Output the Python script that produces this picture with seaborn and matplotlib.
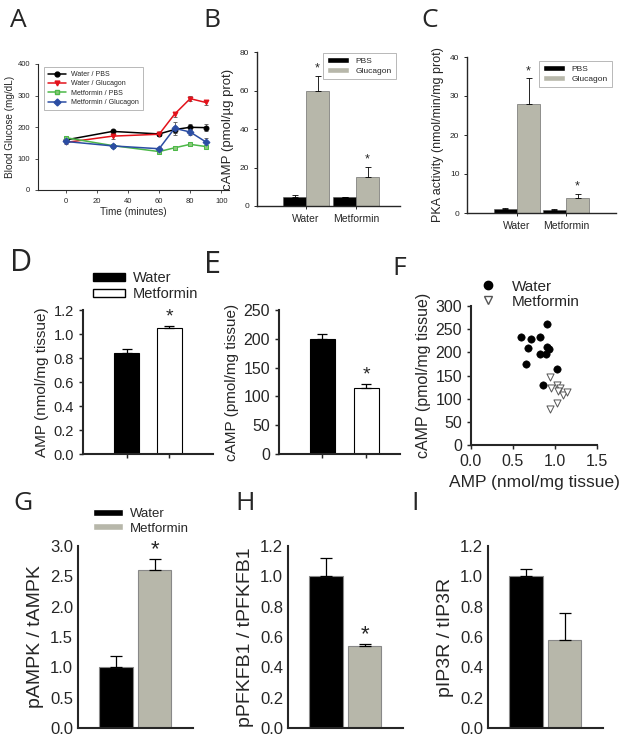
import matplotlib
matplotlib.use("Agg")
import matplotlib.pyplot as plt
import matplotlib.patches as mpatches
from matplotlib.lines import Line2D
import seaborn as sns
import pandas as pd

# ---- panel A: blood glucose time course
time_min = [0, 30, 60, 70, 80, 90]
water_pbs = [159, 186, 178, 192, 199, 198]
water_pbs_err = [5, 6, 6, 10, 10, 10]
water_glu = [151, 171, 177, 241, 290, 278]
water_glu_err = [6, 8, 7, 8, 8, 7]
met_pbs = [166, 141, 122, 134, 145, 138]
met_pbs_err = [5, 5, 5, 5, 5, 6]
met_glu = [154, 140, 131, 196, 184, 153]
met_glu_err = [5, 6, 6, 20, 8, 12]

# ---- panels B, C: grouped bars
groups = ["Water", "Metformin"]
treatments = ["PBS", "Glucagon"]
camp_pbs = [4.5, 4.5]
camp_pbs_err = [1.2, 0.4]
camp_glu = [60, 15.3]
camp_glu_err = [7.5, 5.0]
pka_pbs = [0.95, 0.7]
pka_pbs_err = [0.3, 0.2]
pka_glu = [27.9, 3.8]
pka_glu_err = [6.6, 1.0]

# ---- panels D, E
amp_vals = [0.84, 1.05]
amp_err = [0.035, 0.02]
camp_tissue = [200, 115]
camp_tissue_err = [9, 7]

# ---- panel F: scatter
water_amp = [0.90, 0.60, 0.71, 0.82, 0.68, 0.91, 0.93, 0.82, 0.89, 0.66, 1.02, 0.86]
water_camp = [261, 234, 228, 233, 210, 211, 207, 196, 196, 175, 164, 130]
met_amp = [0.94, 0.95, 1.02, 1.06, 1.03, 1.10, 1.14, 0.94, 1.02]
met_camp = [146, 124, 129, 122, 117, 107, 114, 78, 90]

# ---- panels G, H, I
ampk = [1.0, 2.6]
ampk_err = [0.18, 0.19]
pfkfb = [1.0, 0.54]
pfkfb_err = [0.12, 0.015]
ip3r = [1.0, 0.58]
ip3r_err = [0.05, 0.18]

GRAY = "#b7b7aa"
W, H = 629, 742

sns.set_style("ticks")
plt.rcParams["font.family"] = ["Liberation Sans", "DejaVu Sans"]

fig = plt.figure(figsize=(W / 100, H / 100), dpi=100)


def box(l, t, r, b):
    return fig.add_axes([l / W, 1 - b / H, (r - l) / W, (b - t) / H])


def letter(x, y, s, size=19):
    fig.text(x / W, 1 - y / H, s, fontsize=size, family=["Open Sans", "DejaVu Sans"],
             va="top", ha="left")


def style(ax, lw, fs, length=2):
    sns.despine(ax=ax)
    for sp in ["left", "bottom"]:
        ax.spines[sp].set_linewidth(lw)
    ax.tick_params(labelsize=fs, length=length, width=lw * 0.7)


def add_err(ax, bars, errs, lw=0.8, cap=3):
    for p, e in zip(bars, errs):
        x = p.get_x() + p.get_width() / 2
        ax.errorbar(x, p.get_height(), yerr=[[0], [e]], fmt="none", ecolor="black",
                    elinewidth=lw, capsize=cap, capthick=lw)


def add_star(ax, bar, err, size=9, off=1):
    x = bar.get_x() + bar.get_width() / 2
    ax.annotate("*", (x, bar.get_height() + err), xytext=(0, off), textcoords="offset points",
                ha="center", va="bottom", fontsize=size)


# ================= A
ax = box(38, 64, 229, 190)
series = [("Water / PBS", water_pbs, water_pbs_err, "black", "o", "black"),
          ("Water / Glucagon", water_glu, water_glu_err, "#e3121b", "v", "#e3121b"),
          ("Metformin / PBS", met_pbs, met_pbs_err, "#4cb848", "s", "#8cc97a"),
          ("Metformin / Glucagon", met_glu, met_glu_err, "#2b4da3", "D", "#2b4da3")]
handles = []
for name, vals, err, col, mk, fc in series:
    ax.errorbar(time_min, vals, yerr=err, fmt="none", ecolor="#555555", elinewidth=0.6,
                capsize=1.5, capthick=0.6, zorder=1)
    sns.lineplot(x=time_min, y=vals, color=col, marker=mk, markersize=3.5, markerfacecolor=fc,
                 markeredgecolor=col, linewidth=1.1, ax=ax, zorder=2)
    handles.append(Line2D([], [], color=col, marker=mk, markersize=3.5, markerfacecolor=fc,
                          markeredgecolor=col, linewidth=1.1, label=name))
ax.set_xlim(-18, 105)
ax.set_ylim(0, 400)
ax.set_xticks([0, 20, 40, 60, 80, 100])
ax.set_yticks([0, 100, 200, 300, 400])
style(ax, 0.8, 5.5)
ax.set_xlabel("Time (minutes)", fontsize=7.2, labelpad=2)
ax.set_ylabel("Blood Glucose (mg/dL)", fontsize=7.2, labelpad=2)
leg = ax.legend(handles=handles, loc="upper left", bbox_to_anchor=(0.015, 1.0), fontsize=5,
                frameon=True, fancybox=False, edgecolor="#999999", borderpad=0.5,
                handlelength=2.6, labelspacing=0.35)
leg.get_frame().set_linewidth(0.6)


def grouped(ax, pbs, pbs_err, glu, glu_err, width):
    df = pd.DataFrame({"group": groups * 2,
                       "treatment": [treatments[0]] * 2 + [treatments[1]] * 2,
                       "value": pbs + glu})
    sns.barplot(data=df, x="group", y="value", hue="treatment", palette=["black", GRAY],
                width=width, saturation=1, errorbar=None, legend=False, ax=ax,
                edgecolor="#555555", linewidth=0.4)
    add_err(ax, ax.containers[0], pbs_err, lw=0.6, cap=2.5)
    add_err(ax, ax.containers[1], glu_err, lw=0.6, cap=2.5)
    return ax.containers[1]


def bar_legend(ax, anchor):
    h = [mpatches.Patch(facecolor="black", label="PBS"),
         mpatches.Patch(facecolor=GRAY, label="Glucagon")]
    lg = ax.legend(handles=h, loc="upper right", bbox_to_anchor=anchor, fontsize=6,
                   frameon=True, fancybox=False, edgecolor="#999999", handlelength=2.6,
                   handleheight=0.6, labelspacing=0.3, borderpad=0.5)
    lg.get_frame().set_linewidth(0.6)


# ================= B
ax = box(257, 52, 400, 206)
gb = grouped(ax, camp_pbs, camp_pbs_err, camp_glu, camp_glu_err, 0.92)
add_star(ax, gb[0], camp_glu_err[0])
add_star(ax, gb[1], camp_glu_err[1])
ax.set_xlim(-0.98, 1.88)
ax.set_ylim(0, 80)
ax.set_yticks([0, 20, 40, 60, 80])
style(ax, 1.0, 6)
ax.tick_params(axis="x", labelsize=7.5)
ax.set_xlabel("")
ax.set_ylabel("cAMP (pmol/\u00b5g prot)", fontsize=9.5, labelpad=4)
bar_legend(ax, (1.0, 1.02))

# ================= C
ax = box(467, 57, 616, 213)
gb = grouped(ax, pka_pbs, pka_pbs_err, pka_glu, pka_glu_err, 0.94)
add_star(ax, gb[0], pka_glu_err[0])
add_star(ax, gb[1], pka_glu_err[1])
ax.set_xlim(-1.02, 2.02)
ax.set_ylim(0, 40)
ax.set_yticks([0, 10, 20, 30, 40])
style(ax, 1.0, 6)
ax.tick_params(axis="x", labelsize=7.5)
ax.set_xlabel("")
ax.set_ylabel("PKA activity (nmol/min/mg prot)", fontsize=9, labelpad=4)
bar_legend(ax, (1.0, 1.0))


def simple(ax, vals, err, colors, width, edge="none", elw=0.9, cap=3.5):
    sns.barplot(x=groups, y=vals, hue=groups, palette=colors, width=width, saturation=1,
                errorbar=None, legend=False, ax=ax, edgecolor=edge, linewidth=0.8)
    bars = [c[0] for c in ax.containers]
    add_err(ax, bars, err, lw=elw, cap=cap)
    return bars


# ================= D
ax = box(83, 310, 213, 454)
bars = simple(ax, amp_vals, amp_err, ["black", "white"], 0.6, edge="black")
add_star(ax, bars[1], amp_err[1], size=14, off=0)
ax.set_xlim(-1.02, 2.02)
ax.set_ylim(0, 1.2)
ax.set_yticks([0, 0.2, 0.4, 0.6, 0.8, 1.0, 1.2])
ax.set_yticklabels(["0.0", "0.2", "0.4", "0.6", "0.8", "1.0", "1.2"])
style(ax, 1.5, 10.5, length=3)
ax.set_xticklabels([])
ax.set_ylabel("AMP (nmol/mg tissue)", fontsize=11, labelpad=3)
hD = [mpatches.Patch(facecolor="black", edgecolor="black", label="Water"),
      mpatches.Patch(facecolor="white", edgecolor="black", label="Metformin")]
ax.legend(handles=hD, loc="upper left", bbox_to_anchor=(80 / W, 1 - 258 / H),
          bbox_transform=fig.transFigure, frameon=False, fontsize=10.5, handlelength=2.2,
          handleheight=0.45, labelspacing=0.15, handletextpad=0.5)

# ================= E
ax = box(279, 310, 400, 454)
bars = simple(ax, camp_tissue, camp_tissue_err, ["black", "white"], 0.57, edge="black")
add_star(ax, bars[1], camp_tissue_err[1], size=14, off=0)
ax.set_xlim(-0.98, 1.77)
ax.set_ylim(0, 250)
ax.set_yticks([0, 50, 100, 150, 200, 250])
style(ax, 1.5, 11.5, length=3)
ax.set_xticklabels([])
ax.set_ylabel("cAMP (pmol/mg tissue)", fontsize=11, labelpad=3)

# ================= F
ax = box(471, 306, 597, 445)
sns.scatterplot(x=water_amp, y=water_camp, color="black", s=28, edgecolor="black", ax=ax)
sns.scatterplot(x=met_amp, y=met_camp, marker="v", s=26, facecolor="white",
                edgecolor="#555555", linewidth=0.7, ax=ax)
ax.set_xlim(0, 1.5)
ax.set_ylim(0, 300)
ax.set_xticks([0, 0.5, 1.0, 1.5])
ax.set_xticklabels(["0.0", "0.5", "1.0", "1.5"])
ax.set_yticks([0, 50, 100, 150, 200, 250, 300])
style(ax, 1.5, 11.5, length=3)
ax.set_xlabel("AMP (nmol/mg tissue)", fontsize=12.5, labelpad=4)
ax.set_ylabel("cAMP (pmol/mg tissue)", fontsize=11.5, labelpad=3)
hF = [Line2D([], [], linestyle="none", marker="o", color="black", markersize=6, label="Water"),
      Line2D([], [], linestyle="none", marker="v", markerfacecolor="white",
             markeredgecolor="#555555", markersize=6, label="Metformin")]
ax.legend(handles=hF, loc="upper left", bbox_to_anchor=(463 / W, 1 - 266 / H),
          bbox_transform=fig.transFigure, frameon=False, fontsize=11, handlelength=1.5,
          labelspacing=0.05, handletextpad=0.8)

# ================= G, H, I
panels = [(78, 193, ampk, ampk_err, 3.0, [0, 0.5, 1.0, 1.5, 2.0, 2.5, 3.0],
           "pAMPK / tAMPK", True),
          (288, 403, pfkfb, pfkfb_err, 1.2, [0, 0.2, 0.4, 0.6, 0.8, 1.0, 1.2],
           "pPFKFB1 / tPFKFB1", True),
          (488, 603, ip3r, ip3r_err, 1.2, [0, 0.2, 0.4, 0.6, 0.8, 1.0, 1.2],
           "pIP3R / tIP3R", False)]
for l, r, vals, err, top, ticks, lab, star in panels:
    ax = box(l, 546, r, 728)
    bars = simple(ax, vals, err, ["black", GRAY], 0.87, edge="#888888", elw=0.9, cap=4)
    if star:
        add_star(ax, bars[1], err[1], size=16, off=-1)
    ax.set_xlim(-0.99, 2.0)
    ax.set_ylim(0, top)
    ax.set_yticks(ticks)
    ax.set_yticklabels([f"{t:.1f}" for t in ticks])
    style(ax, 1.5, 12, length=0)
    ax.set_xticks([])
    ax.set_ylabel(lab, fontsize=14, labelpad=4)

hG = [mpatches.Patch(facecolor="black", label="Water"),
      mpatches.Patch(facecolor=GRAY, label="Metformin")]
fig.legend(handles=hG, loc="upper left", bbox_to_anchor=(81 / W, 1 - 496 / H), frameon=False,
           fontsize=9.5, handlelength=2.3, handleheight=0.45, labelspacing=0.2,
           handletextpad=0.5)

letter(10, 8, "A")
letter(203, 8, "B")
letter(421, 8, "C")
letter(10, 248, "D", size=22)
letter(204, 250, "E", size=22)
letter(392, 256, "F")
letter(13, 491, "G")
letter(235, 491, "H")
letter(411, 491, "I")

fig.savefig("out.png", dpi=100)
